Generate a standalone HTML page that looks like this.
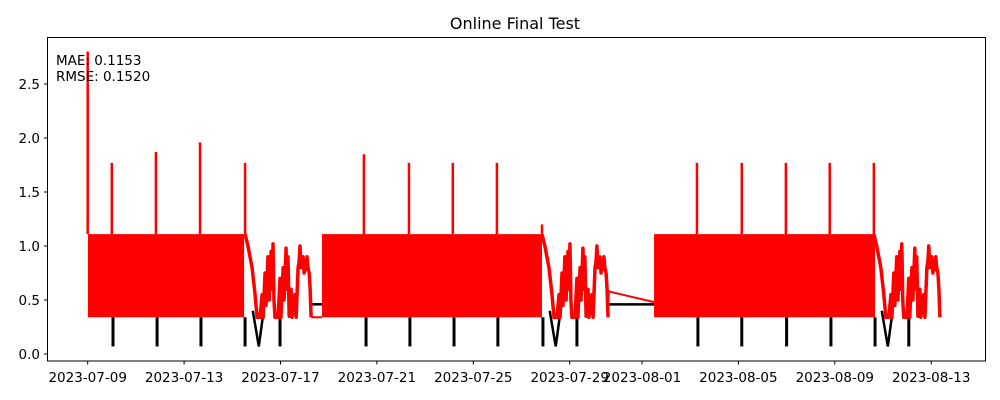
<!DOCTYPE html>
<html><head><meta charset="utf-8"><style>
body{margin:0;background:#fff;}
svg{display:block;font-family:"DejaVu Sans","Liberation Sans",sans-serif;}
</style></head><body>
<svg id="chart" width="1000" height="400" xmlns="http://www.w3.org/2000/svg">
<rect width="1000" height="400" fill="#fff"/>
<text x="515" y="29" font-size="16" text-anchor="middle">Online Final Test</text>
<g id="plot"></g>
<rect x="47.5" y="37.5" width="938" height="323.5" fill="none" stroke="#000" stroke-width="1"/>
<text x="56" y="65" font-size="13.5">MAE: 0.1153</text>
<text x="56" y="81" font-size="13.5">RMSE: 0.1520</text>
</svg>
<script>
const xTickLabels=["2023-07-09","2023-07-13","2023-07-17","2023-07-21","2023-07-25","2023-07-29","2023-08-01","2023-08-05","2023-08-09","2023-08-13"];
const xTickDays=[0,4,8,12,16,20,23,27,31,35];
const yTicks=[0,0.5,1.0,1.5,2.0,2.5];
const blockStarts=[0.01,9.72,23.5];
const blockEnds=[6.49,18.85,32.67];
const bandLow=0.34, bandHigh=1.11;
const spikeDays=[0,1.0,2.83,4.66,6.53,11.46,13.33,15.15,16.98,18.85,25.28,27.14,28.97,30.79,32.62];
const spikeVals=[2.8,1.77,1.87,1.96,1.77,1.85,1.77,1.77,1.77,1.2,1.77,1.77,1.77,1.77,1.77];
const dropDays=[1.05,2.88,4.7,6.53,11.55,13.37,15.2,17.02,18.89,25.32,27.14,29.0,30.84,32.67];
const dropVal=0.07;
const wiggleVals=[1.11,1.0,0.8,0.56,0.34,0.34,0.55,0.34,0.75,0.45,0.9,0.5,0.95,0.6,1.02,0.5,0.34,0.34,0.7,0.34,0.8,0.5,0.98,0.6,0.9,0.35,0.6,0.34,0.55,0.34,0.8,0.85,1.0,0.8,0.9,0.75,0.85,0.78,0.9,0.8,0.75,0.6,0.34];
const wiggle1Days=[6.53,6.65,6.82,6.94,7.03,7.15,7.24,7.28,7.36,7.40,7.48,7.53,7.61,7.65,7.69,7.73,7.77,7.90,7.98,8.02,8.11,8.15,8.23,8.27,8.31,8.36,8.44,8.48,8.60,8.65,8.73,8.77,8.81,8.85,8.94,8.98,9.02,9.06,9.10,9.14,9.19,9.23,9.27];
const wiggle2Days=[18.85,18.97,19.14,19.26,19.35,19.47,19.56,19.60,19.68,19.72,19.80,19.85,19.93,19.97,20.01,20.05,20.09,20.22,20.30,20.34,20.43,20.47,20.55,20.59,20.63,20.68,20.76,20.80,20.92,20.97,21.05,21.09,21.13,21.17,21.26,21.30,21.34,21.38,21.42,21.46,21.51,21.55,21.59];
const wiggle3Days=[32.62,32.74,32.91,33.03,33.12,33.24,33.33,33.37,33.45,33.49,33.57,33.62,33.70,33.74,33.78,33.82,33.86,33.99,34.07,34.11,34.20,34.24,34.32,34.36,34.40,34.45,34.53,34.57,34.69,34.74,34.82,34.86,34.90,34.94,35.03,35.07,35.11,35.15,35.19,35.23,35.28,35.32,35.36];
const gapRedDays=[[9.27,9.72],[21.59,21.62,23.5]];
const gapRedVals=[[0.34,0.34],[0.34,0.58,0.48]];
const blackFlatStarts=[9.2,21.6];
const blackFlatEnds=[9.72,23.5];
const blackFlatVal=0.46;
const blackVDays=[7.1,19.42,33.2];
const blackVertDays=[7.98,20.30,34.07];

const X=d=>87.7+24.1*d;
const Y=v=>354-108*v;
const NS="http://www.w3.org/2000/svg";
const svg=document.getElementById('chart');
const plot=document.getElementById('plot');
function mk(tag,attrs,parent){const e=document.createElementNS(NS,tag);for(const k in attrs)e.setAttribute(k,attrs[k]);(parent||plot).appendChild(e);return e;}

blackFlatStarts.forEach((s,i)=>{
  const e=mk('line',{x1:X(s),x2:X(blackFlatEnds[i]),y1:Y(blackFlatVal),y2:Y(blackFlatVal),stroke:'#000','stroke-width':2.5});
  
  
});
dropDays.forEach(d=>{
  const e=mk('line',{x1:X(d),x2:X(d),y1:Y(bandLow),y2:Y(dropVal),stroke:'#000','stroke-width':3});
  
  
});
blackVDays.forEach(d=>{
  const e=mk('polyline',{points:`${X(d-0.25)},${Y(0.4)} ${X(d)},${Y(dropVal)} ${X(d+0.2)},${Y(0.4)}`,fill:'none',stroke:'#000','stroke-width':2.5});
  
  
});
blackVertDays.forEach(d=>{
  const e=mk('line',{x1:X(d),x2:X(d),y1:Y(0.4),y2:Y(dropVal),stroke:'#000','stroke-width':3});
  
  
});

blockStarts.forEach((s,i)=>{
  const e=mk('rect',{x:X(s),y:Y(bandHigh),width:X(blockEnds[i])-X(s),height:Y(bandLow)-Y(bandHigh),fill:'#ff0000'});
  
  
});
[wiggle1Days,wiggle2Days,wiggle3Days].forEach(days=>{
  const pts=days.map((d,j)=>X(d)+','+Y(wiggleVals[j])).join(' ');
  const e=mk('polyline',{points:pts,fill:'none',stroke:'#ff0000','stroke-width':3.5,'stroke-linejoin':'round'});
  
  
});
gapRedDays.forEach((days,i)=>{
  const pts=days.map((d,j)=>X(d)+','+Y(gapRedVals[i][j])).join(' ');
  const e=mk('polyline',{points:pts,fill:'none',stroke:'#ff0000','stroke-width':2});
  
  
});
spikeDays.forEach((d,i)=>{
  const e=mk('line',{x1:X(d),x2:X(d),y1:Y(bandHigh),y2:Y(spikeVals[i]),stroke:'#ff0000','stroke-width':2.5});
  
  
});

yTicks.forEach(v=>{
  const t=mk('line',{x1:44,x2:47.5,y1:Y(v),y2:Y(v),stroke:'#000'},svg);
  
  
  const l=mk('text',{x:40,y:Y(v)+5,'font-size':13.5,'text-anchor':'end'},svg);
  l.textContent=v.toFixed(1);
  
  
});
xTickDays.forEach((d,i)=>{
  const t=mk('line',{x1:X(d),x2:X(d),y1:361,y2:364.5,stroke:'#000'},svg);
  
  
  const l=mk('text',{x:X(d),y:382,'font-size':13.5,'text-anchor':'middle'},svg);
  l.textContent=xTickLabels[i];
  
  
});
</script>
</body></html>
